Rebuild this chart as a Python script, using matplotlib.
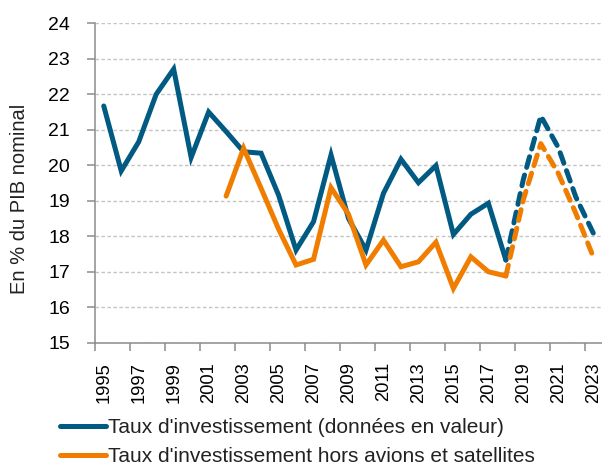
import matplotlib
matplotlib.use("Agg")
import matplotlib.pyplot as plt
from matplotlib import font_manager

years = list(range(1995, 2024))
# Taux d'investissement (données en valeur), 1995-2018 observed, 2018-2023 projected
blue_obs_years = list(range(1995, 2019))
blue_obs = [21.67, 19.84, 20.66, 22.0, 22.71, 20.22, 21.5, 20.95, 20.38, 20.34,
            19.16, 17.61, 18.41, 20.29, 18.5, 17.61, 19.21, 20.17, 19.51, 19.99,
            18.05, 18.62, 18.93, 17.33]
blue_proj_years = list(range(2018, 2024))
blue_proj = [17.33, 19.6, 21.39, 20.5, 19.11, 18.09]

# Taux d'investissement hors avions et satellites
orange_obs_years = list(range(2002, 2019))
orange_obs = [19.13, 20.48, 19.35, 18.2, 17.19, 17.35, 19.37, 18.62, 17.19, 17.89,
              17.14, 17.28, 17.83, 16.53, 17.42, 17.0, 16.88]
orange_proj_years = list(range(2018, 2024))
orange_proj = [16.88, 19.03, 20.61, 19.77, 18.65, 17.42]

BLUE = "#005a82"
ORANGE = "#f07d00"
AXIS = "#8c8c8c"

names = {f.name for f in font_manager.fontManager.ttflist}
family = "Liberation Sans" if "Liberation Sans" in names else "DejaVu Sans"
plt.rcParams["font.family"] = family
plt.rcParams["text.color"] = "#222222"

fig = plt.figure(figsize=(6.02, 4.65), dpi=100)
ax = fig.add_axes([95 / 602, 1 - 342.7 / 465, 1 - 95 / 602, (342.7 - 23.3) / 465])

lw = 3.6
ax.plot(blue_obs_years, blue_obs, color=BLUE, lw=lw, solid_capstyle="round",
        solid_joinstyle="miter", label="Taux d'investissement (données en valeur)")
ax.plot(orange_obs_years, orange_obs, color=ORANGE, lw=lw, solid_capstyle="round",
        solid_joinstyle="miter", label="Taux d'investissement hors avions et satellites")
ax.plot(blue_proj_years, blue_proj, color=BLUE, lw=lw, ls=(0, (2.2, 1.6)),
        dash_capstyle="round")
ax.plot(orange_proj_years, orange_proj, color=ORANGE, lw=lw, ls=(0, (2.2, 1.6)),
        dash_capstyle="round")

ax.set_xlim(1994.5, 2023.5)
ax.set_ylim(15, 24)
ax.set_yticks(range(15, 25))
ax.yaxis.grid(True, color="#c4c4c4", ls=(0, (2.5, 1.8)), lw=1)
ax.set_axisbelow(True)

# ticks on category boundaries, labels at category centres
ax.set_xticks([1994.5 + 2 * k for k in range(15)])
ax.set_xticklabels([])
ax.set_xticks(list(range(1995, 2024, 2)), minor=True)
ax.set_xticklabels([str(y) for y in range(1995, 2024, 2)], minor=True,
                   rotation=90, fontsize=13.2)
ax.tick_params(axis="x", which="major", length=6, width=1.1, color=AXIS, direction="out")
ax.tick_params(axis="x", which="minor", length=0, pad=14)
ax.tick_params(axis="y", length=6, width=1.1, color=AXIS, pad=12, labelsize=14)

for s in ("top", "right"):
    ax.spines[s].set_visible(False)
for s in ("left", "bottom"):
    ax.spines[s].set_color(AXIS)
    ax.spines[s].set_linewidth(1.1)

fig.text(20 / 602, 1 - 199 / 465, "En % du PIB nominal", rotation=90,
         ha="center", va="center", fontsize=14.5)

ax.legend(loc="upper left", bbox_to_anchor=(60 / 602, 1 - 418 / 465),
          bbox_transform=fig.transFigure, frameon=False, fontsize=15,
          handlelength=2.2, handletextpad=0.12, labelspacing=0.5,
          borderaxespad=0, borderpad=0)

fig.savefig("out.png", dpi=100)
